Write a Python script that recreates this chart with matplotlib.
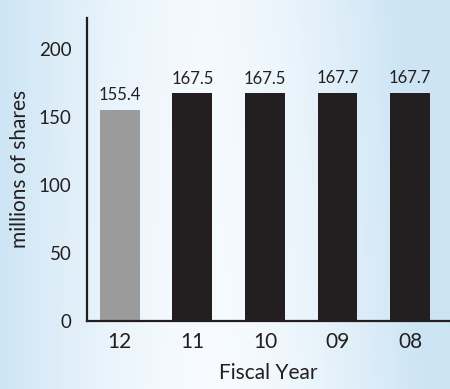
import matplotlib.pyplot as plt
import numpy as np

plt.rcParams['font.family'] = ['Lato', 'DejaVu Sans']

# data
years = ["12", "11", "10", "09", "08"]
shares = [155.4, 167.5, 167.5, 167.7, 167.7]
value_labels = ["155.4", "167.5", "167.5", "167.7", "167.7"]
bar_colors = ["#9b9b9b", "#231f20", "#231f20", "#231f20", "#231f20"]
y_ticks = [0, 50, 100, 150, 200]

ink = "#231f20"

fig = plt.figure(figsize=(4.5, 3.89), dpi=100)

# light blue background, paler in the middle
bg = fig.add_axes([0, 0, 1, 1], zorder=0)
gx, gy = np.meshgrid(np.linspace(0, 1, 300), np.linspace(0, 1, 260))
t = np.clip(np.abs(gx - 0.47) * 2.1, 0, 1) ** 1.6
t = np.clip(t + 0.2 * gy * gx, 0, 1)
pale = np.array([0.970, 0.985, 0.998])
blue = np.array([0.800, 0.895, 0.960])
img = pale[None, None, :] * (1 - t[..., None]) + blue[None, None, :] * t[..., None]
bg.imshow(img, extent=[0, 1, 0, 1], aspect='auto', origin='lower')
bg.axis('off')

ax = fig.add_axes([0.193, 0.175, 0.807, 0.779], zorder=1)
ax.patch.set_alpha(0)

x = np.arange(len(years))
ax.bar(x, shares, width=0.55, color=bar_colors)
for xi, v, lab in zip(x, shares, value_labels):
    ax.text(xi, v + 5, lab, ha='center', va='bottom', fontsize=12, color=ink)

ax.set_xlim(-0.455, 4.55)
ax.set_ylim(0, 223)
ax.set_xticks(x)
ax.set_xticklabels(years)
ax.set_yticks(y_ticks)
ax.tick_params(axis='y', length=0, pad=11, labelsize=13.5, colors=ink)
ax.tick_params(axis='x', length=0, pad=8, labelsize=15, colors=ink)

for side in ["top", "right"]:
    ax.spines[side].set_visible(False)
for side in ["left", "bottom"]:
    ax.spines[side].set_linewidth(1.6)
    ax.spines[side].set_color(ink)

ax.set_xlabel("Fiscal Year", fontsize=15, color=ink, labelpad=8)
ax.set_ylabel("millions of shares", fontsize=15, color=ink, labelpad=6)

fig.savefig("out.png", dpi=100)
